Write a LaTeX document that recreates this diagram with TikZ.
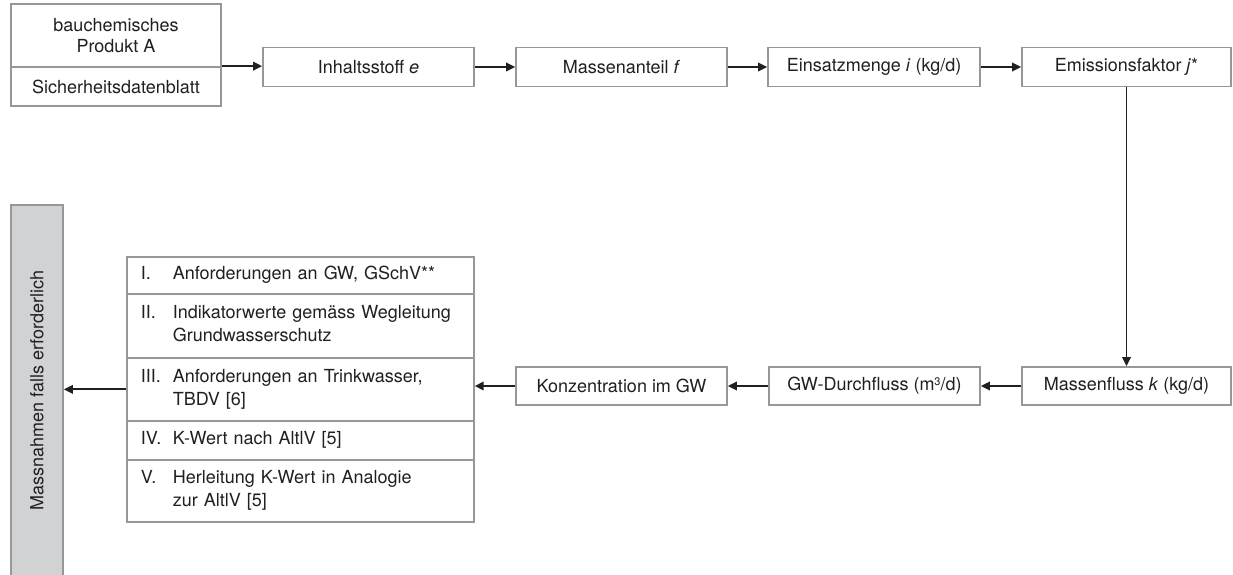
\documentclass[tikz,border=0pt]{standalone}
\usepackage{fontspec}
\setmainfont{TeX Gyre Heros}
\usetikzlibrary{arrows.meta}
\definecolor{ink}{HTML}{231F20}
\definecolor{frame}{HTML}{979797}
\definecolor{barfill}{HTML}{D1D2D4}
\tikzset{
  box/.style={draw=frame, line width=1.7pt, fill=white, text=ink, inner sep=0pt,
              align=center, font=\fontsize{18}{21.5}\selectfont},
  rowbox/.style={draw=frame, line width=1.7pt, fill=white, text=ink, anchor=north west,
              minimum width=347pt, text width=319pt, inner xsep=14pt, inner ysep=0pt,
              align=left, font=\fontsize{18}{23}\selectfont},
  sidebar/.style={draw=frame, line width=1.7pt, fill=barfill, text=ink, inner sep=0pt,
              minimum width=52pt, minimum height=371pt,
              font=\fontsize{18}{21.5}\selectfont},
  arr/.style={draw=ink, line width=1.9pt, -{Triangle[length=9pt,width=8.5pt]}}
}
\newcommand{\rowtext}[2]{\begin{tabular}{@{}p{32pt}@{}l@{}}#1 & #2\end{tabular}}
\newcommand{\cubic}{\raisebox{0.55ex}{\fontsize{11}{11}\selectfont 3}}
\begin{document}
\begin{tikzpicture}[x=1pt,y=-1pt]
\clip (0,0) rectangle (1233,574);
\fill[white] (0,0) rectangle (1233,574);

% product with its safety data sheet
\node[box, minimum width=210pt, minimum height=63pt] (prod) at (116,35.5)
  {bauchemisches\\Produkt A};
\node[box, minimum width=210pt, minimum height=39pt] (sdb) at (116,86.5)
  {Sicherheitsdatenblatt};

% upper chain
\node[box, minimum width=211pt, minimum height=39pt] (inh)  at (368.5,67) {Inhaltsstoff \textit{e}};
\node[box, minimum width=211pt, minimum height=39pt] (mant) at (621.5,67) {Massenanteil \textit{f}};
\node[box, minimum width=212pt, minimum height=39pt] (eins) at (874,67)   {Einsatzmenge \textit{i} (kg/d)};
\node[box, minimum width=209pt, minimum height=39pt] (emis) at (1126.5,67) {Emissionsfaktor \textit{j}*};

% lower chain
\node[box, minimum width=209pt, minimum height=38pt] (mfl)  at (1126.5,386) {Massenfluss \textit{k} (kg/d)};
\node[box, minimum width=211pt, minimum height=38pt] (gwd)  at (874.5,386)  {GW-Durchfluss (m\cubic/d)};
\node[box, minimum width=211pt, minimum height=38pt] (konz) at (621.5,386)  {Konzentration im GW};

% assessment criteria
\node[rowbox, minimum height=37pt] (r1) at (126,256) {\rowtext{I.}{Anforderungen an GW, GSchV**}};
\node[rowbox, minimum height=64pt] (r2) at (126,293) {\rowtext{II.}{Indikatorwerte gemäss Wegleitung\\ & Grundwasserschutz}};
\node[rowbox, minimum height=63pt] (r3) at (126,357) {\rowtext{III.}{Anforderungen an Trinkwasser,\\ & TBDV [6]}};
\node[rowbox, minimum height=39pt] (r4) at (126,420) {\rowtext{IV.}{K-Wert nach AltlV [5]}};
\node[rowbox, minimum height=62pt] (r5) at (126,459) {\rowtext{V.}{Herleitung K-Wert in Analogie\\ & zur AltlV [5]}};

% measures
\node[sidebar] (mass) at (37,390.5) {\rotatebox{90}{Massnahmen falls erforderlich}};

% connectors
\draw[arr] (sdb.north east) -- (sdb.north east -| inh.west);
\draw[arr] (inh.east) -- (mant.west);
\draw[arr] (mant.east) -- (eins.west);
\draw[arr] (eins.east) -- (emis.west);
\draw[arr] (emis.south) -- (mfl.north);
\draw[arr] (mfl.west) -- (gwd.east);
\draw[arr] (gwd.west) -- (konz.east);
\draw[arr] (konz.west) -- (konz.west -| r3.east);
\draw[arr] (r3.west) -- (r3.west -| mass.east);
\end{tikzpicture}
\end{document}
